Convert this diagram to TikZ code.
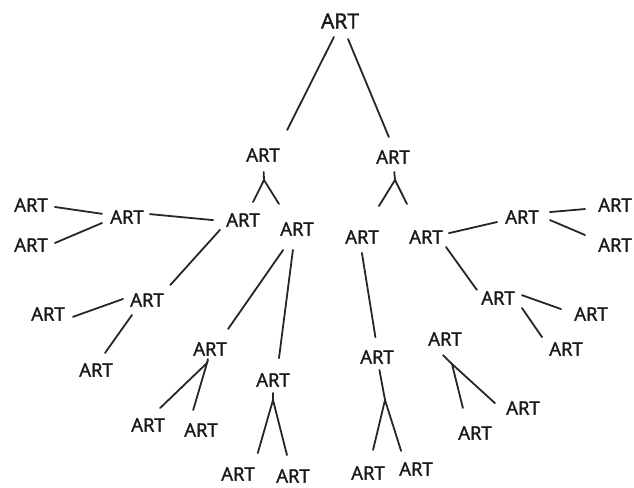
\documentclass[tikz,border=0pt]{standalone}
\usepackage{fontspec}
\setmainfont{Open Sans}[UprightFeatures={FakeBold=1.8}]

\begin{document}
\begin{tikzpicture}[x=1pt,y=-1pt]
    \useasboundingbox (0,0) rectangle (634,487);

    \begin{scope}[every node/.style={inner sep=0pt,outer sep=0pt,minimum width=40pt,minimum height=20pt,
        text=black!90,font=\fontsize{18.5}{20}\selectfont}]
      \node[font=\fontsize{21}{24}\selectfont,minimum width=46pt,minimum height=22pt] (0) at (340,21) {ART};
      \node (1) at (263,155) {ART};
      \node (2) at (393,157) {ART};
      \node (3) at (243,220) {ART};
      \node (4) at (297,229) {ART};
      \node (5) at (362,237) {ART};
      \node (6) at (426,237) {ART};
      \node (7) at (127,217) {ART};
      \node (8) at (31,205) {ART};
      \node (9) at (31,245) {ART};
      \node (10) at (147,300) {ART};
      \node (11) at (48,314) {ART};
      \node (12) at (96,370) {ART};
      \node (13) at (210,349) {ART};
      \node (14) at (273,380) {ART};
      \node (15) at (148,425) {ART};
      \node (16) at (201,430) {ART};
      \node (17) at (238,474) {ART};
      \node (18) at (293,476) {ART};
      \node (19) at (377,357) {ART};
      \node (20) at (368,473) {ART};
      \node (21) at (416,469) {ART};
      \node (22) at (522,217) {ART};
      \node (23) at (615,205) {ART};
      \node (24) at (615,245) {ART};
      \node (25) at (498,298) {ART};
      \node (26) at (591,314) {ART};
      \node (27) at (566,349) {ART};
      \node (28) at (445,339) {ART};
      \node (29) at (523,408) {ART};
      \node (30) at (475,433) {ART};
    \end{scope}

    \coordinate (j1) at (264,180);
    \coordinate (j2) at (395,180);
    \coordinate (j3) at (207,363);
    \coordinate (j4) at (273,400);
    \coordinate (j5) at (385,400);
    \coordinate (j6) at (452,364);

    \begin{scope}[draw=black!85,line width=1.8pt,line cap=round]
      % root
      \draw[shorten <=5.6pt,shorten >=16.8pt] (0.252) -- (1.31);
      \draw[shorten <=7.6pt,shorten >=10.8pt] (0.295) -- (2.north);
      % left half
      \draw[shorten <=7pt] (1) -- (j1);
      \draw[shorten <=8.9pt,shorten >=17.7pt] (3.59) -- (j1) -- (4.131);
      \draw[shorten <=10pt,shorten >=3pt] (3.183) -- (7.9);
      \draw[shorten <=5pt,shorten >=4pt] (7.173) -- (8.356);
      \draw[shorten <=5.4pt,shorten >=4.3pt] (7.191) -- (9.1);
      \draw[shorten <=4.5pt,shorten >=6.7pt] (3.198) -- (10.28);
      \draw[shorten <=4.3pt,shorten >=5.3pt] (10.173) -- (11.347);
      \draw[shorten <=6.1pt,shorten >=8.6pt] (10.221) -- (12.68);
      \draw[shorten <=13.4pt,shorten >=12.2pt] (4.238) -- (13.42);
      \draw[shorten <=11pt,shorten >=12pt] (4.255) -- (14.66);
      \draw (13) -- (j3);
      \draw[shorten <=10pt,shorten >=10.4pt] (15.64) -- (j3) -- (16.137);
      \draw[shorten <=3pt] (14) -- (j4);
      \draw[shorten <=11.4pt,shorten >=11.3pt] (17.31) -- (j4) -- (18.108);
      % right half
      \draw[shorten <=5pt] (2) -- (j2);
      \draw[shorten <=24.6pt,shorten >=25.7pt] (5.68) -- (j2) -- (6.127);
      \draw[shorten <=6pt,shorten >=10pt] (5.264) -- (19.north);
      \draw[shorten <=3pt] (19) -- (j5);
      \draw[shorten <=13.4pt,shorten >=8.4pt] (20.79) -- (j5) -- (21.141);
      \draw[shorten <=3pt,shorten >=5pt] (6.9) -- (22.191);
      \draw[shorten <=8pt,shorten >=10pt] (22.12) -- (23.189);
      \draw[shorten <=8.7pt,shorten >=10.9pt] (22.1) -- (24.164);
      \draw[shorten >=2pt] (6.south east) -- (25.162);
      \draw[shorten <=4.2pt,shorten >=10.6pt] (25.12) -- (26.176);
      \draw[shorten <=7pt,shorten >=7pt] (25.348) -- (27.163);
      \draw[shorten <=8.8pt] (28.230) -- (j6);
      \draw[shorten <=15.5pt,shorten >=10.9pt] (30.130) -- (j6) -- (29.187);
    \end{scope}
\end{tikzpicture}
\end{document}
